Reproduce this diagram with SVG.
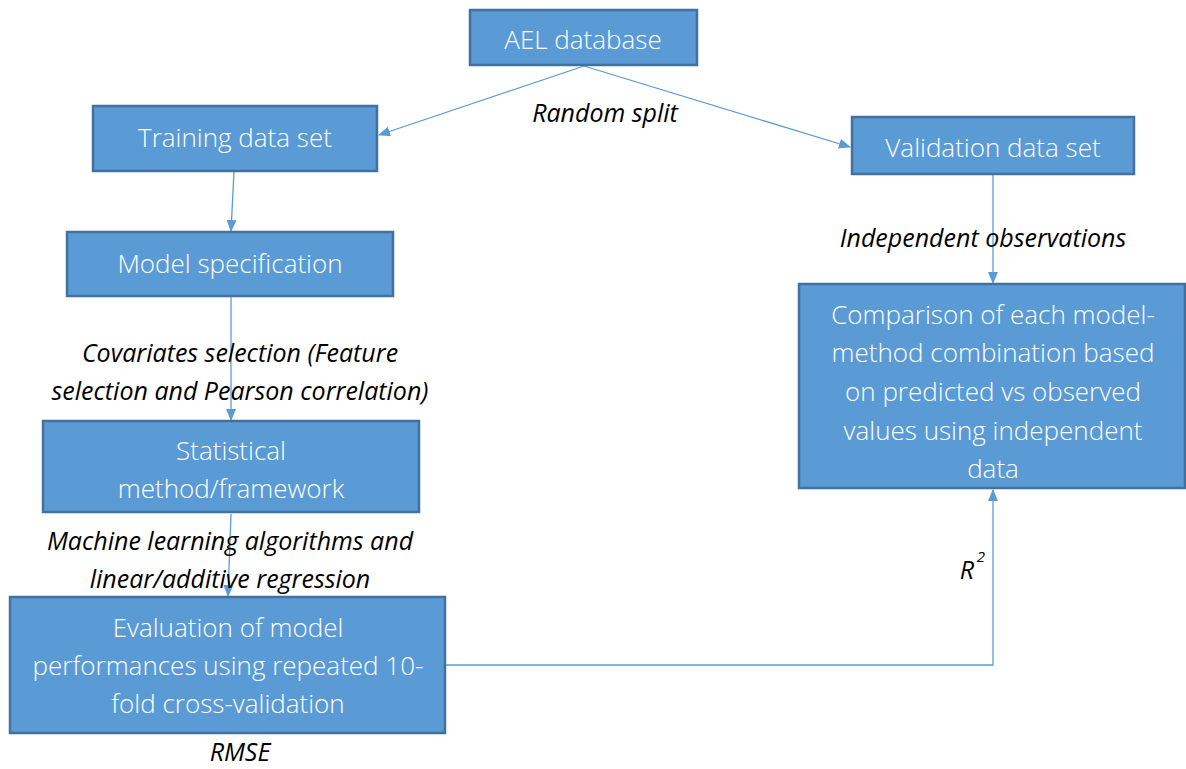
<svg xmlns="http://www.w3.org/2000/svg" width="1186" height="769" viewBox="0 0 1186 769">
<style>
.box{fill:#5B9BD5;stroke:#41719C;stroke-width:2.5}
.bt{font-family:"Open Sans","Liberation Sans",sans-serif;font-weight:300;font-size:26px;fill:#FFFFFF;text-anchor:middle}
.lb{font-family:"Open Sans","Liberation Sans",sans-serif;font-style:italic;font-weight:400;font-size:25px;fill:#000000;text-anchor:middle}
.cn{fill:none;stroke:#5B9BD5;stroke-width:1.3}
</style>
<defs>
<marker id="ah" markerWidth="12" markerHeight="10" refX="11" refY="5" orient="auto" markerUnits="userSpaceOnUse">
<path d="M0,0 L12,5 L0,10 Z" fill="#5B9BD5"/>
</marker>
</defs>
<rect width="1186" height="769" fill="#FFFFFF"/>
<g id="connectors">
<line class="cn" x1="584" y1="66" x2="379" y2="135" marker-end="url(#ah)"/>
<line class="cn" x1="584" y1="66" x2="850" y2="147" marker-end="url(#ah)"/>
<line class="cn" x1="234" y1="172" x2="231" y2="231" marker-end="url(#ah)"/>
<line class="cn" x1="231" y1="297" x2="231" y2="420" marker-end="url(#ah)"/>
<line class="cn" x1="231" y1="514" x2="228" y2="596" marker-end="url(#ah)"/>
<line class="cn" x1="993" y1="175" x2="993" y2="283" marker-end="url(#ah)"/>
<polyline class="cn" points="446,665 993,665 993,490" marker-end="url(#ah)"/>
</g>
<g id="ael"><rect class="box" x="470" y="10" width="227" height="55"/><text class="bt" x="583" y="49">AEL database</text></g>
<g id="training"><rect class="box" x="93" y="106" width="284" height="65"/><text class="bt" x="235" y="147">Training data set</text></g>
<g id="validation"><rect class="box" x="852" y="117" width="282" height="57"/><text class="bt" x="993" y="157">Validation data set</text></g>
<g id="model"><rect class="box" x="67" y="232" width="326" height="64"/><text class="bt" x="230" y="273">Model specification</text></g>
<g id="statistical"><rect class="box" x="43" y="421" width="376" height="91"/><text class="bt" x="231" y="460">Statistical</text><text class="bt" x="231" y="498">method/framework</text></g>
<g id="evaluation"><rect class="box" x="10" y="597" width="435" height="136"/><text class="bt" x="228" y="637">Evaluation of model</text><text class="bt" x="228" y="675">performances using repeated 10-</text><text class="bt" x="228" y="713">fold cross-validation</text></g>
<g id="comparison"><rect class="box" x="799" y="284" width="386" height="204"/>
<text class="bt" x="993" y="324">Comparison of each model-</text>
<text class="bt" x="993" y="362">method combination based</text>
<text class="bt" x="993" y="401">on predicted vs observed</text>
<text class="bt" x="993" y="440">values using independent</text>
<text class="bt" x="993" y="478">data</text></g>
<g id="labels">
<text class="lb" x="605" y="122">Random split</text>
<text class="lb" x="983" y="247">Independent observations</text>
<text class="lb" x="240" y="362">Covariates selection (Feature</text>
<text class="lb" x="240" y="400">selection and Pearson correlation)</text>
<text class="lb" x="230" y="550">Machine learning algorithms and</text>
<text class="lb" x="230" y="588">linear/additive regression</text>
<text class="lb" x="240" y="761">RMSE</text>
<text class="lb" x="967" y="579">R</text>
<text class="lb" x="981" y="562" style="font-size:15px">2</text>
</g>
</svg>
